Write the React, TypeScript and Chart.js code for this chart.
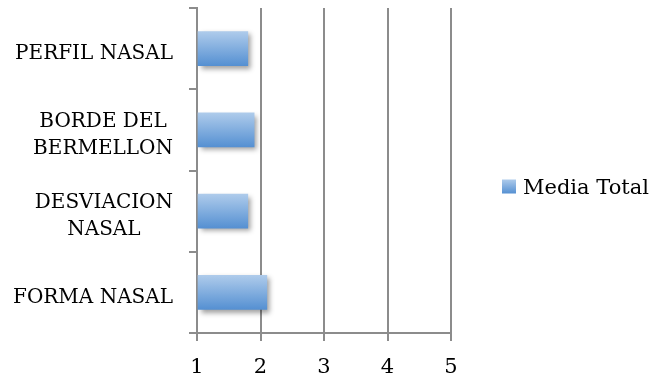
import React, { useEffect, useRef } from "react";
import { Chart, registerables } from "chart.js";

Chart.register(...registerables);

const categories: (string | string[])[] = [
  "PERFIL NASAL",
  ["BORDE DEL", "BERMELLON"],
  ["DESVIACION", "NASAL"],
  "FORMA NASAL",
];
const mediaTotal = [1.8, 1.9, 1.8, 2.1];
const seriesName = "Media Total";
const xTicks = [1, 2, 3, 4, 5];

const FONT = "'DejaVu Serif', serif";
const LABEL_SIZE = 20;
const TICK_SIZE = 21;
const LEGEND_SIZE = 21;
const GRID = "#8c8c8c";

function barGradient(ctx: CanvasRenderingContext2D, top: number, bottom: number) {
  const g = ctx.createLinearGradient(0, top, 0, bottom);
  g.addColorStop(0, "#aecbeb");
  g.addColorStop(1, "#5590d2");
  return g;
}

export default function App() {
  const ref = useRef<HTMLCanvasElement | null>(null);

  useEffect(() => {
    document.body.style.margin = "0";
    const canvas = ref.current;
    if (!canvas) return;
    const BAR_H = 34;

    const shadowPlugin = {
      id: "barShadow",
      beforeDatasetDraw(chart: any) {
        const c = chart.ctx;
        c.save();
        c.shadowColor = "rgba(0,0,0,0.38)";
        c.shadowBlur = 5;
        c.shadowOffsetX = 3;
        c.shadowOffsetY = 3;
      },
      afterDatasetDraw(chart: any) {
        chart.ctx.restore();
      },
    };

    const labelPlugin = {
      id: "yLabels",
      afterDraw(chart: any) {
        const c = chart.ctx;
        const ys = chart.scales.y;
        c.save();
        c.font = `${LABEL_SIZE}px ${FONT}`;
        c.fillStyle = "#000";
        c.textAlign = "center";
        c.textBaseline = "middle";
        const right = chart.chartArea.left - 24;
        const lh = 27;
        categories.forEach((lab, i) => {
          const lines = Array.isArray(lab) ? lab : [lab];
          const w = Math.max(...lines.map((l) => c.measureText(l).width));
          const cx = right - w / 2;
          const cy = ys.getPixelForValue(i) + 5;
          lines.forEach((l, k) => {
            c.fillText(l, cx, cy + (k - (lines.length - 1) / 2) * lh);
          });
        });
        // legend
        c.font = `${LEGEND_SIZE}px ${FONT}`;
        const lx = chart.chartArea.right + 51;
        const ly = (chart.chartArea.top + chart.chartArea.bottom) / 2 + 16;
        c.fillStyle = barGradient(c, ly - 7, ly + 7);
        c.fillRect(lx, ly - 7, 14, 14);
        c.fillStyle = "#000";
        c.textAlign = "left";
        c.fillText(seriesName, lx + 21, ly + 2);
        c.restore();
      },
    };

    const chart = new Chart(canvas, {
      type: "bar",
      data: {
        labels: categories as any,
        datasets: [
          {
            label: seriesName,
            data: mediaTotal,
            base: 1,
            barThickness: BAR_H,
            backgroundColor: (ctx: any) => {
              const ch = ctx.chart;
              const ys = ch.scales && ch.scales.y;
              if (!ys) return "#7aaee0";
              const cy = ys.getPixelForValue(ctx.dataIndex);
              if (!isFinite(cy)) return "#7aaee0";
              return barGradient(ch.ctx, cy - BAR_H / 2, cy + BAR_H / 2);
            },
            borderWidth: 0,
          } as any,
        ],
      },
      options: {
        indexAxis: "y",
        responsive: false,
        animation: false,
        devicePixelRatio: 1,
        layout: { padding: { top: 8, right: 198, left: 0, bottom: 0 } },
        plugins: {
          legend: { display: false },
          tooltip: { enabled: false },
        },
        scales: {
          x: {
            type: "linear",
            min: xTicks[0],
            max: xTicks[xTicks.length - 1],
            afterBuildTicks: (s: any) => {
              s.ticks = xTicks.map((v) => ({ value: v }));
            },
            afterFit: (s: any) => {
              s.height = 44;
            },
            grid: {
              color: GRID,
              lineWidth: 2,
              tickLength: 8,
              drawTicks: true,
            },
            border: { color: GRID, width: 2 },
            ticks: {
              color: "#000",
              padding: 14,
              font: { family: FONT, size: TICK_SIZE },
            },
          },
          y: {
            type: "category",
            afterFit: (s: any) => {
              s.width = 197;
            },
            grid: {
              drawOnChartArea: false,
              color: GRID,
              lineWidth: 2,
              tickLength: 8,
              offset: true,
            },
            border: { color: GRID, width: 2 },
            ticks: { display: false },
          },
        },
      },
      plugins: [shadowPlugin, labelPlugin],
    } as any);

    return () => chart.destroy();
  }, []);

  return (
    <canvas
      ref={ref}
      width={649}
      height={377}
      style={{ position: "fixed", left: 0, top: 0, width: 649, height: 377 }}
    />
  );
}
